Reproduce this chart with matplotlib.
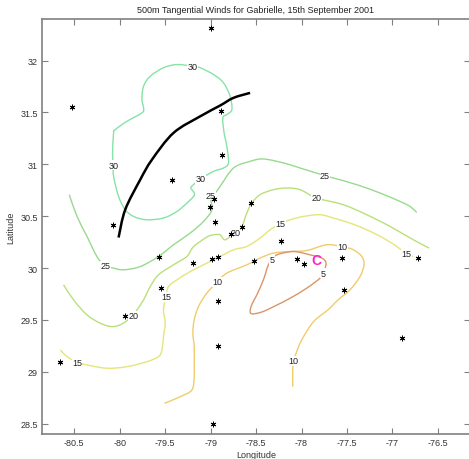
import matplotlib
matplotlib.use('Agg')
import matplotlib.pyplot as plt
import numpy as np
from matplotlib.path import Path
from matplotlib.patches import PathPatch

plt.rcParams['font.family'] = ['Liberation Sans', 'DejaVu Sans']

# observation points (lon, lat)
obs_lon = [-79.00, -80.53, -78.89, -78.87, -79.42, -78.96, -79.01, -80.07, -78.95, -78.78,
           -78.65, -78.56, -79.57, -79.19, -78.99, -78.92, -79.55, -78.92, -78.23, -78.52,
           -78.05, -77.97, -77.56, -77.53, -76.72, -79.94, -80.66, -78.92, -78.97, -76.90]
obs_lat = [32.31, 31.55, 31.51, 31.09, 30.85, 30.67, 30.59, 30.41, 30.44, 30.33,
           30.40, 30.63, 30.11, 30.05, 30.09, 30.11, 29.81, 29.68, 30.26, 30.07,
           30.09, 30.04, 30.10, 29.79, 30.10, 29.54, 29.09, 29.25, 28.50, 29.33]

# storm centre
centre_lon, centre_lat = -77.84, 30.08

# black track
track_lon = [-80.013, -79.940, -79.775, -79.646, -79.409, -79.115, -78.896, -78.749, -78.566]
track_lat = [30.294, 30.562, 30.851, 31.044, 31.302, 31.462, 31.566, 31.640, 31.688]

# contour lines
c30_lon = [-80.079, -80.068, -80.049, -79.921, -79.756, -79.738, -79.756, -79.738, -79.665, -79.519,
           -79.371, -79.200, -79.115, -78.969, -78.859, -78.786, -78.767, -78.822, -78.866, -78.852,
           -78.822, -78.804, -78.859, -78.969, -79.115, -79.189, -79.218, -79.178, -79.262, -79.371,
           -79.519, -79.701, -79.848, -79.940, -80.013, -80.068, -80.071, -80.079]
c30_lat = [31.093, 31.302, 31.334, 31.414, 31.495, 31.543, 31.624, 31.752, 31.848, 31.930,
           31.961, 31.945, 31.930, 31.865, 31.785, 31.655, 31.527, 31.479, 31.447, 31.302,
           31.173, 31.013, 30.964, 30.931, 30.858, 30.803, 30.771, 30.707, 30.626, 30.545,
           30.482, 30.465, 30.497, 30.562, 30.690, 30.883, 30.989, 31.093]

c25_lon = [-80.555, -80.470, -80.360, -80.251, -80.159, -80.068, -79.958, -79.775, -79.574, -79.409,
           -79.225, -79.079, -78.987, -79.005, -78.951, -78.896, -78.749, -78.566, -78.420, -78.200,
           -78.017, -77.742, -77.651, -77.393, -77.137, -76.918, -76.808, -76.734]
c25_lat = [30.707, 30.497, 30.304, 30.111, 30.021, 29.999, 29.983, 30.014, 30.111, 30.224,
           30.337, 30.449, 30.562, 30.700, 30.723, 30.787, 30.964, 31.028, 31.051, 31.013,
           30.964, 30.890, 30.868, 30.803, 30.723, 30.642, 30.594, 30.536]

c20_lon = [-80.618, -80.508, -80.360, -80.214, -80.086, -79.976, -79.855, -79.811, -79.738, -79.665,
           -79.574, -79.409, -79.262, -79.189, -79.042, -78.969, -78.896, -78.841, -78.731, -78.657,
           -78.602, -78.547, -78.456, -78.310, -78.163, -78.017, -77.833, -77.541, -77.284, -77.027,
           -76.771, -76.596]
c20_lat = [29.838, 29.693, 29.548, 29.468, 29.435, 29.461, 29.539, 29.597, 29.693, 29.821,
           29.934, 30.031, 30.111, 30.205, 30.298, 30.320, 30.320, 30.272, 30.343, 30.401,
           30.530, 30.626, 30.707, 30.755, 30.771, 30.755, 30.675, 30.610, 30.514, 30.401,
           30.272, 30.192]

c15_lon = [-80.654, -80.580, -80.470, -80.360, -80.141, -79.921, -79.701, -79.574, -79.536, -79.519,
           -79.500, -79.519, -79.492, -79.464, -79.371, -79.225, -79.079, -78.969, -78.896, -78.749,
           -78.602, -78.456, -78.346, -78.236, -78.126, -77.980, -77.797, -77.651, -77.467, -77.284,
           -77.101, -76.954, -76.844, -76.771]
c15_lat = [29.210, 29.146, 29.092, 29.066, 29.034, 29.049, 29.097, 29.146, 29.210, 29.339,
           29.468, 29.597, 29.725, 29.821, 29.886, 29.966, 30.031, 30.079, 30.111, 30.176,
           30.208, 30.289, 30.369, 30.427, 30.465, 30.497, 30.514, 30.482, 30.433, 30.369,
           30.289, 30.208, 30.137, 30.111]

c10_lon = [-79.508, -79.335, -79.207, -79.181, -79.181, -79.181, -79.196, -79.181, -79.134, -79.042,
           -78.925, -78.822, -78.602, -78.456, -78.310, -78.126, -77.943, -77.723, -77.547, -77.431,
           -77.338, -77.313, -77.357, -77.467, -77.599, -77.709, -77.870, -77.998, -78.060, -78.088,
           -78.097, -78.097]
c10_lat = [28.696, 28.760, 28.824, 28.953, 29.049, 29.242, 29.372, 29.500, 29.628, 29.758,
           29.867, 29.951, 30.031, 30.096, 30.144, 30.159, 30.169, 30.224, 30.205, 30.176,
           30.111, 30.031, 29.918, 29.790, 29.693, 29.597, 29.481, 29.307, 29.179, 29.104,
           29.017, 28.856]

c5_lon = [-78.321, -78.272, -78.090, -77.907, -77.778, -77.731, -77.760, -77.797, -77.943, -78.126,
          -78.291, -78.434, -78.544, -78.566, -78.544, -78.492, -78.420, -78.365, -78.321]
c5_lat = [30.079, 30.127, 30.159, 30.127, 30.096, 30.047, 29.951, 29.902, 29.806, 29.709,
          29.635, 29.577, 29.558, 29.587, 29.654, 29.741, 29.886, 30.031, 30.079]

# contour labels
label_lon = [-79.200, -79.115, -80.071, -80.159, -79.005, -77.742, -79.845, -78.731, -77.833,
             -80.470, -79.492, -78.236, -76.844, -78.925, -77.547, -78.088, -78.321, -77.760]
label_lat = [31.945, 30.858, 30.989, 30.021, 30.700, 30.890, 29.539, 30.343, 30.675,
             29.092, 29.725, 30.427, 30.137, 29.867, 30.205, 29.104, 30.079, 29.951]
label_txt = ['30', '30', '30', '25', '25', '25', '20', '20', '20',
             '15', '15', '15', '15', '10', '10', '10', '5', '5']

x_ticks = [-80.5, -80, -79.5, -79, -78.5, -78, -77.5, -77, -76.5]
y_ticks = [28.5, 29, 29.5, 30, 30.5, 31, 31.5, 32]


def smooth_path(xs, ys):
    """Catmull-Rom through the read points, drawn as cubic Bezier segments."""
    p = np.column_stack([xs, ys])
    closed = np.allclose(p[0], p[-1])
    n = len(p)
    verts = [p[0]]
    codes = [Path.MOVETO]
    for i in range(n - 1):
        if closed:
            p0 = p[i - 1] if i > 0 else p[-2]
            p3 = p[i + 2] if i + 2 < n else p[1]
        else:
            p0 = p[max(i - 1, 0)]
            p3 = p[min(i + 2, n - 1)]
        p1, p2 = p[i], p[i + 1]
        verts += [p1 + (p2 - p0) / 6.0, p2 - (p3 - p1) / 6.0, p2]
        codes += [Path.CURVE4] * 3
    return Path(verts, codes)


fig = plt.figure(figsize=(4.69, 4.60), dpi=100)
ax = fig.add_axes([0.0896, 0.0543, 0.9124, 0.9022])

contours = [
    (c30_lon, c30_lat, '#86e3a6'),
    (c25_lon, c25_lat, '#98da8e'),
    (c20_lon, c20_lat, '#b9e07a'),
    (c15_lon, c15_lat, '#e6e57a'),
    (c10_lon, c10_lat, '#f0cc6a'),
    (c5_lon, c5_lat, '#dc9468'),
]
for lon, lat, col in contours:
    ax.add_patch(PathPatch(smooth_path(lon, lat), facecolor='none', edgecolor=col,
                           linewidth=1.0, zorder=2))

for x, y, t in zip(label_lon, label_lat, label_txt):
    ax.text(x, y, t, fontsize=6.5, color='#222222', ha='center', va='center', zorder=3,
            bbox=dict(boxstyle='square,pad=0.05', facecolor='white', edgecolor='none'))

ax.add_patch(PathPatch(smooth_path(track_lon, track_lat), facecolor='none', edgecolor='black',
                       linewidth=1.8, zorder=4))
ax.plot(obs_lon, obs_lat, linestyle='none', marker=(6, 2, 0), markersize=4,
        markeredgewidth=0.7, color='black', zorder=5)
ax.text(centre_lon, centre_lat, 'C', color='#ff22cc', fontsize=10, fontweight='bold',
        ha='center', va='center', zorder=6)

ax.set_xlim(-80.855, -76.148)
ax.set_ylim(28.40, 32.40)
ax.set_xticks(x_ticks)
ax.set_xticklabels(['-80.5', '-80', '-79.5', '-79', '-78.5', '-78', '-77.5', '-77', '-76.5'])
ax.set_yticks(y_ticks)
ax.set_yticklabels(['28.5', '29', '29.5', '30', '30.5', '31', '31.5', '32'])
ax.tick_params(direction='in', length=4, width=0.8, color='#808080', labelsize=6.5,
               labelcolor='#333333', top=True, right=True, pad=3)
for s in ax.spines.values():
    s.set_color('#808080')
    s.set_linewidth(1.2)
# the right edge falls just outside the picture
ax.spines['right'].set_visible(False)

ax.set_xlabel('Longitude', fontsize=6.5, color='#333333', labelpad=2)
ax.set_ylabel('Latitude', fontsize=6.5, color='#333333', labelpad=4)
ax.set_title('500m Tangential Winds for Gabrielle, 15th September 2001', fontsize=6.5,
             color='#222222', pad=5)

fig.savefig('out.png', dpi=100)
